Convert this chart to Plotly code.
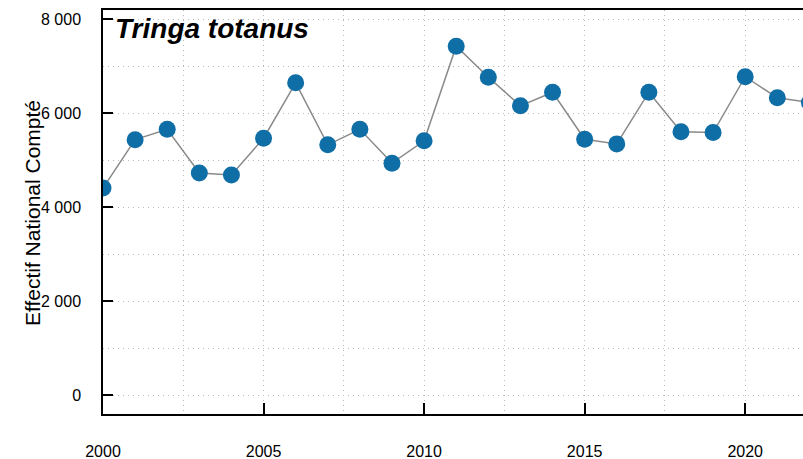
import plotly.graph_objects as go

years = list(range(2000, 2023))
counts = [4410, 5440, 5660, 4730, 4690, 5470, 6650, 5330, 5660, 4940, 5415,
          7430, 6770, 6160, 6450, 5450, 5350, 6450, 5610, 5590, 6780, 6330, 6230]

title_text = "Tringa totanus"
y_title = "Effectif National Compté"

font_family = "Arial, Liberation Sans, sans-serif"
grid_color = "#b8b8b8"
dash = "1px,4px"

fig = go.Figure()
fig.add_trace(go.Scatter(
    x=years, y=counts, mode="lines+markers",
    line=dict(color="#8a8a8a", width=1.5),
    marker=dict(color="#0f6ea5", size=17, line=dict(width=0)),
    cliponaxis=True, showlegend=False,
))

fig.update_layout(
    width=803, height=459,
    margin=dict(l=103, r=0, t=10, b=45, autoexpand=False),
    paper_bgcolor="white", plot_bgcolor="white",
    separators=", ",
    font=dict(family=font_family, color="black", size=16),
    xaxis=dict(
        range=[2000, 2021.8], dtick=5, tick0=2000, automargin=False,
        ticks="inside", ticklen=11, tickwidth=1.5, tickcolor="black",
        showline=True, linecolor="black", linewidth=1.5, mirror=True,
        showgrid=True, gridcolor=grid_color, griddash=dash, gridwidth=1,
        minor=dict(dtick=2.5, tick0=2000, showgrid=True, gridcolor=grid_color,
                   griddash=dash, gridwidth=1, ticks=""),
        zeroline=False, ticklabelstandoff=22,
        tickfont=dict(size=16, family=font_family),
    ),
    yaxis=dict(
        range=[-400, 8200], dtick=2000, tick0=0, automargin=False,
        tickformat=",d", separatethousands=True,
        ticks="inside", ticklen=10, tickwidth=1.5, tickcolor="black",
        showline=True, linecolor="black", linewidth=1.5,
        showgrid=True, gridcolor=grid_color, griddash=dash, gridwidth=1,
        minor=dict(dtick=1000, tick0=0, showgrid=True, gridcolor=grid_color,
                   griddash=dash, gridwidth=1, ticks=""),
        zeroline=False, ticklabelstandoff=17,
        tickfont=dict(size=16, family=font_family),
    ),
    annotations=[
        dict(text=title_text, xref="paper", yref="paper", x=0.014, y=0.955,
             xanchor="left", yanchor="middle", showarrow=False,
             font=dict(size=28, family=font_family, color="black",
                       weight="bold", style="italic")),
        dict(text=y_title, xref="paper", yref="paper", x=-0.1014, y=0.4975,
             xanchor="center", yanchor="middle", textangle=-90, showarrow=False,
             font=dict(size=21, family=font_family, color="black")),
    ],
)

fig.write_html("out.html", config={"displayModeBar": False},
               post_script="document.body.style.margin='0';document.body.style.padding='0';")
